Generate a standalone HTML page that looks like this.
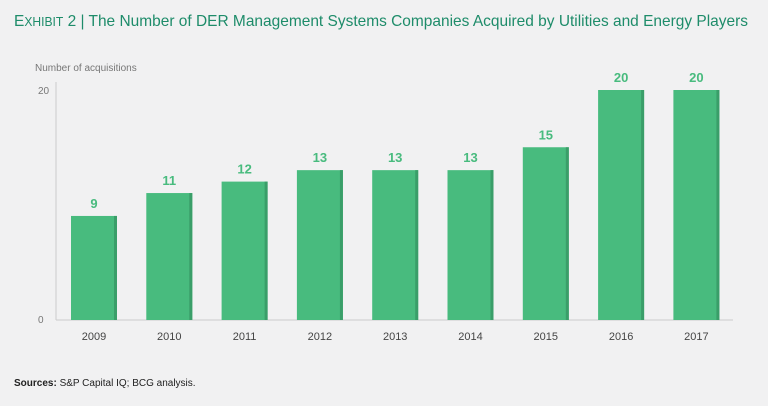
<!DOCTYPE html><html><head><meta charset="utf-8"><style>
body{margin:0;background:#f1f1f2;font-family:"Liberation Sans",sans-serif;}
</style></head><body>
<svg width="768" height="401" xmlns="http://www.w3.org/2000/svg">
<rect width="768" height="401" fill="#f1f1f2"/>
<text x="14" y="26" font-size="16" fill="#1e8c6a" textLength="734" lengthAdjust="spacingAndGlyphs"><tspan font-size="16">E</tspan><tspan font-size="12.5">XHIBIT</tspan> 2 | The Number of DER Management Systems Companies Acquired by Utilities and Energy Players</text>
<text x="35" y="71" font-size="10" fill="#777">Number of acquisitions</text>
<line x1="56" y1="82" x2="56" y2="320" stroke="#ccc"/>
<line x1="56" y1="320" x2="733" y2="320" stroke="#ccc"/>
<g id="ticks"></g><g id="bars"></g>
<text x="14" y="386" font-size="10" fill="#222"><tspan font-weight="bold">Sources:</tspan> S&amp;P Capital IQ; BCG analysis.</text>
</svg>
<script>
const categories=["2009","2010","2011","2012","2013","2014","2015","2016","2017"];
const values=[9,11,12,13,13,13,15,20,20];
const yTicks=[0,20];
const NS="http://www.w3.org/2000/svg";
const y=v=>319-v*11.45;
const x=i=>71+i*75.3;
const bw=46;
const g=document.getElementById('bars'),tg=document.getElementById('ticks');
function mk(t,a,p){const e=document.createElementNS(NS,t);for(const k in a)e.setAttribute(k,a[k]);p.appendChild(e);return e;}
yTicks.forEach(v=>{const t=mk('text',{x:38,y:y(v)+4,'font-size':10,fill:'#777'},tg);t.textContent=v;

});
values.forEach((v,i)=>{
const r=mk('rect',{x:x(i),y:y(v),width:bw,height:y(0)-y(v)+1,fill:'#48bb7e'},g);


mk('rect',{x:x(i)+bw-3,y:y(v),width:3,height:y(0)-y(v)+1,fill:'#3a9e69'},g);
const l=mk('text',{x:x(i)+bw/2,y:y(v)-8,'font-size':13,'font-weight':'bold',fill:'#48bb7e','text-anchor':'middle'},g);l.textContent=v;


const c=mk('text',{x:x(i)+bw/2,y:340,'font-size':11,fill:'#444','text-anchor':'middle'},g);c.textContent=categories[i];


});
</script></body></html>
